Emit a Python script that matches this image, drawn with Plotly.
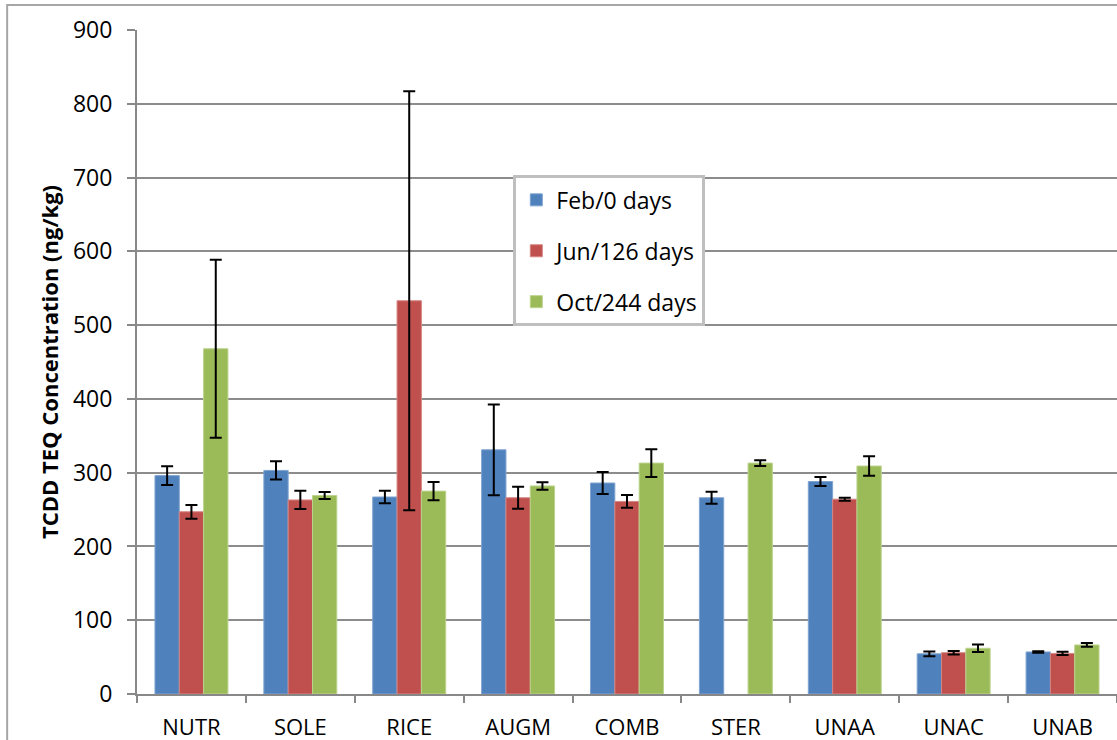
import plotly.graph_objects as go

# Treatment plots
categories = ["NUTR", "SOLE", "RICE", "AUGM", "COMB", "STER", "UNAA", "UNAC", "UNAB"]

# Mean TCDD TEQ concentration (ng/kg) per sampling event
feb_0 = [296, 303, 267, 331, 286, 266, 288, 54.5, 57]
jun_126 = [247, 263, 533, 266, 261, None, 264, 56, 55]
oct_244 = [468, 269, 275, 282, 313, 313, 309, 62, 66.5]

# Error bar half-widths (ng/kg)
feb_0_err = [12.7, 12.4, 8.5, 61.5, 15, 8, 6, 3.2, 1]
jun_126_err = [9.3, 12.4, 284, 15, 8.6, None, 2, 2.3, 2.3]
oct_244_err = [120.7, 4.8, 12.5, 5, 18.8, 3.9, 13.3, 5.2, 2.5]

series = [
    ("Feb/0 days", feb_0, feb_0_err, "#4F81BD", "#7FA3D0"),
    ("Jun/126 days", jun_126, jun_126_err, "#C0504D", "#D58583"),
    ("Oct/244 days", oct_244, oct_244_err, "#9BBB59", "#BCD38E"),
]

FONT = "Open Sans"

fig = go.Figure()
for i, (name, vals, errs, color, edge) in enumerate(series):
    fig.add_trace(go.Bar(
        name=name,
        x=categories,
        y=vals,
        legendgroup=f"g{i}",
        marker=dict(color=color, line=dict(color=edge, width=1)),
        error_y=dict(type="data", array=errs, visible=True,
                     color="black", thickness=2, width=6),
    ))

fig.update_layout(
    width=1117,
    height=740,
    margin=dict(l=137, r=0, t=30, b=46),
    paper_bgcolor="white",
    plot_bgcolor="white",
    barmode="group",
    bargap=0.33,
    bargroupgap=0,
    font=dict(family=FONT, size=22, color="black"),
    showlegend=True,
    legend=dict(
        x=0.384, y=0.781, xanchor="left", yanchor="top",
        bgcolor="white", bordercolor="#BFBFBF", borderwidth=3,
        font=dict(family=FONT, size=23),
        tracegroupgap=18,
        itemwidth=30,
    ),
    xaxis=dict(
        type="category",
        showline=True, linecolor="#888888", linewidth=2,
        ticks="outside", tickson="boundaries", ticklen=7,
        tickcolor="#888888", tickwidth=2,
        showgrid=False,
        tickfont=dict(family=FONT, size=22),
        ticklabelstandoff=13,
    ),
    yaxis=dict(
        range=[0, 900],
        tickvals=list(range(0, 901, 100)),
        showline=True, linecolor="#888888", linewidth=2,
        ticks="outside", ticklen=8, tickcolor="#888888", tickwidth=2,
        showgrid=True, gridcolor="#8C8C8C", gridwidth=2,
        zeroline=False,
        tickfont=dict(family=FONT, size=23),
        ticklabelstandoff=10,
        title=dict(text="<b>TCDD TEQ Concentration (ng/kg)</b>",
                   font=dict(family=FONT, size=22), standoff=8),
    ),
    shapes=[
        dict(type="rect", xref="paper", yref="paper",
             x0=-0.1325, x1=1.1, y0=-0.3, y1=1.0377,
             line=dict(color="#A6A6A6", width=2), layer="below"),
    ],
)

fig.write_html("out.html")
